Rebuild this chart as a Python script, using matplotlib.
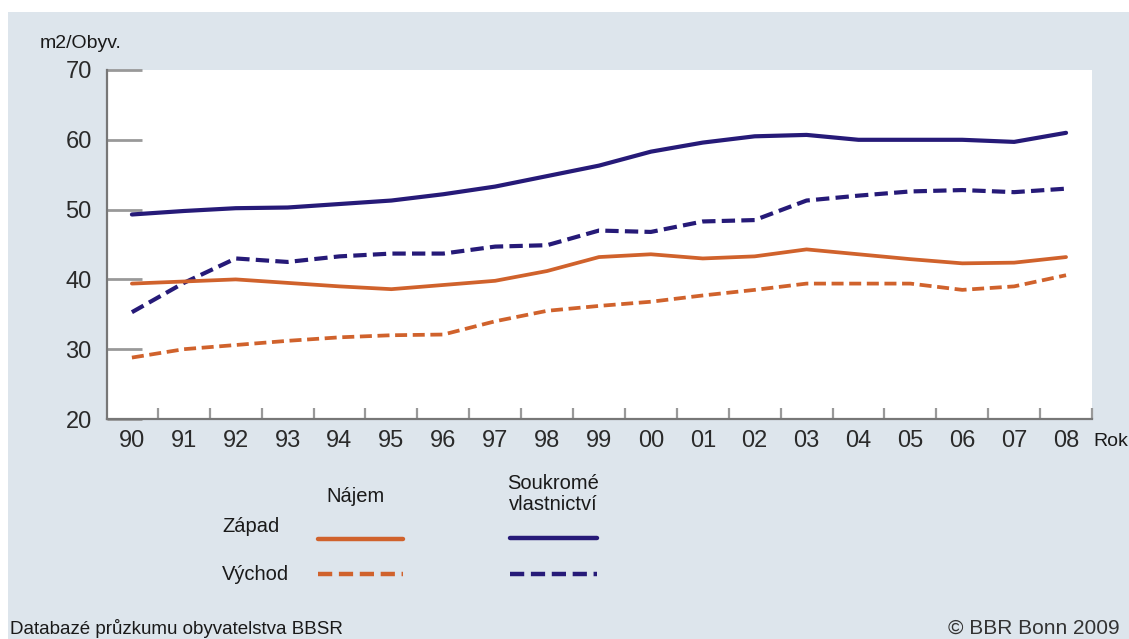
import matplotlib.pyplot as plt
from matplotlib.lines import Line2D
from matplotlib.patches import Rectangle

plt.rcParams['font.family'] = ['Liberation Sans', 'DejaVu Sans']

# Data (m2 per inhabitant), years 1990-2008
years = ["90", "91", "92", "93", "94", "95", "96", "97", "98", "99",
         "00", "01", "02", "03", "04", "05", "06", "07", "08"]
west_own = [49.3, 49.8, 50.2, 50.3, 50.8, 51.3, 52.2, 53.3, 54.8, 56.3,
            58.3, 59.6, 60.5, 60.7, 60.0, 60.0, 60.0, 59.7, 61.0]
east_own = [35.3, 39.5, 43.0, 42.5, 43.3, 43.7, 43.7, 44.7, 44.9, 47.0,
            46.8, 48.3, 48.5, 51.3, 52.0, 52.6, 52.8, 52.5, 53.0]
west_rent = [39.4, 39.7, 40.0, 39.5, 39.0, 38.6, 39.2, 39.8, 41.2, 43.2,
             43.6, 43.0, 43.3, 44.3, 43.6, 42.9, 42.3, 42.4, 43.2]
east_rent = [28.8, 30.0, 30.6, 31.2, 31.7, 32.0, 32.1, 34.0, 35.5, 36.2,
             36.8, 37.7, 38.5, 39.4, 39.4, 39.4, 38.5, 39.0, 40.6]
y_ticks = [20, 30, 40, 50, 60, 70]

navy = "#261a78"
orange = "#d0622c"
panel = "#dde5ec"
txt = "#1a1a1a"
dash = (3.2, 1.5)

fig = plt.figure(figsize=(11.29, 6.39), dpi=100)
fig.patch.set_facecolor("white")
fig.patches.append(Rectangle((8 / 1129, 0), 1, 1 - 12 / 639, transform=fig.transFigure,
                             facecolor=panel, edgecolor="none", zorder=-10))

ax = fig.add_axes([107 / 1129, 220 / 639, 985 / 1129, 349 / 639])
ax.set_facecolor("white")
x = list(range(len(years)))

ax.plot(x, west_own, color=navy, lw=3, solid_capstyle="round")
ax.plot(x, east_own, color=navy, lw=3, dashes=dash)
ax.plot(x, west_rent, color=orange, lw=2.7, solid_capstyle="round")
ax.plot(x, east_rent, color=orange, lw=2.7, dashes=dash)

ax.set_xlim(-0.48, 18.46)
ax.set_ylim(20, 70)
for s in ["top", "right"]:
    ax.spines[s].set_visible(False)
for s in ["left", "bottom"]:
    ax.spines[s].set_color("#777777")
    ax.spines[s].set_linewidth(1.6)

ax.set_yticks(y_ticks)
ax.set_yticklabels([str(v) for v in y_ticks], fontsize=17, color="#2a2a2a")
ax.tick_params(axis="y", direction="in", length=25, width=2, color="#999999", pad=11)

# category labels centred, tick marks between categories
ax.set_xticks(x)
ax.set_xticklabels(years, fontsize=17, color="#2a2a2a")
ax.tick_params(axis="x", length=0, pad=8)
ax.set_xticks([i + 0.5 for i in x], minor=True)
ax.tick_params(axis="x", which="minor", direction="in", length=8, width=1.6, color="#999999")

fig.text(40 / 1129, 1 - 43 / 639, "m2/Obyv.", fontsize=14, va="center", color=txt)
fig.text(1093 / 1129, 1 - 442 / 639, "Rok", fontsize=14, va="center", color=txt)

# legend block
fig.text(356 / 1129, 1 - 497 / 639, "Nájem", fontsize=14.5, ha="center", va="center", color=txt)
fig.text(553 / 1129, 1 - 494 / 639, "Soukromé\nvlastnictví", fontsize=14.5,
         ha="center", va="center", linespacing=1.15, color=txt)
fig.text(222 / 1129, 1 - 527 / 639, "Západ", fontsize=14.5, va="center", color=txt)
fig.text(222 / 1129, 1 - 574 / 639, "Východ", fontsize=14.5, va="center", color=txt)
legend_items = [
    (318, 403, 539, orange, None),
    (318, 403, 574, orange, dash),
    (510, 597, 538, navy, None),
    (510, 597, 574, navy, dash),
]
for x0, x1, yy, c, d in legend_items:
    ln = Line2D([x0 / 1129, x1 / 1129], [1 - yy / 639, 1 - yy / 639],
                transform=fig.transFigure, color=c, lw=3.2, solid_capstyle="round")
    if d:
        ln.set_dashes(d)
    fig.lines.append(ln)

fig.text(10 / 1129, 1 - 628 / 639, "Databazé průzkumu obyvatelstva BBSR", fontsize=13.5,
         va="center", color=txt)
fig.text(1120 / 1129, 1 - 628 / 639, "© BBR Bonn 2009", fontsize=15, va="center",
         ha="right", color="#333333")

fig.savefig("out.png", dpi=100)
